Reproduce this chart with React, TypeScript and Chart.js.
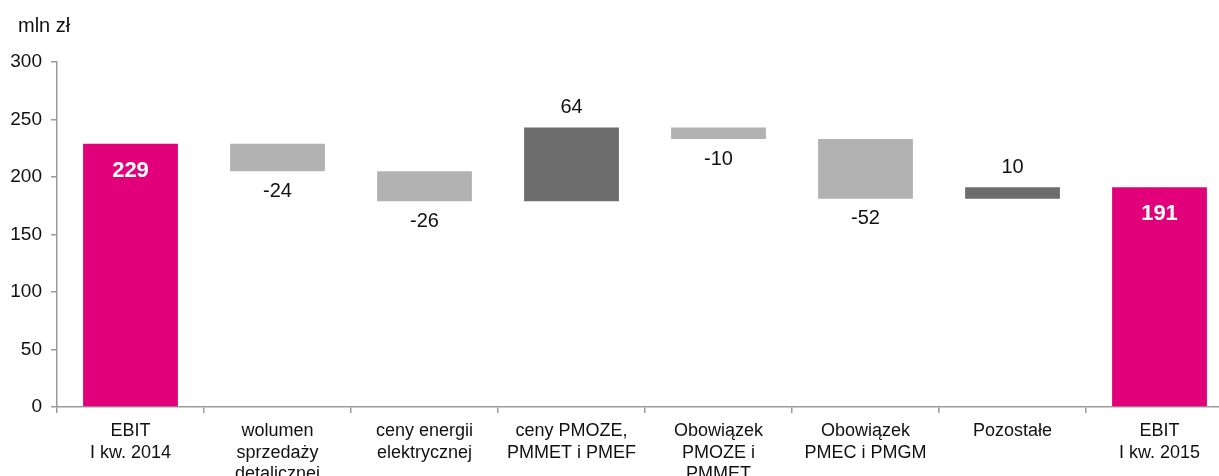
import { useEffect, useRef } from "react";
import { Chart, registerables } from "chart.js";

Chart.register(...registerables);

const categories: string[][] = [
  ["EBIT", "I kw. 2014"],
  ["wolumen", "sprzedaży", "detalicznej"],
  ["ceny energii", "elektrycznej"],
  ["ceny PMOZE,", "PMMET i PMEF"],
  ["Obowiązek", "PMOZE i", "PMMET"],
  ["Obowiązek", "PMEC i PMGM"],
  ["Pozostałe"],
  ["EBIT", "I kw. 2015"],
];
const changes = [229, -24, -26, 64, -10, -52, 10, 191];
const isTotal = [true, false, false, false, false, false, false, true];
const yTicks = [0, 50, 100, 150, 200, 250, 300];
const unitLabel = "mln zł";

const MAGENTA = "#E2007A";
const LIGHT = "#B2B2B2";
const DARK = "#6D6D6D";
const AXIS = "#9B9B9B";
const FONT = "'Liberation Sans', Arial, sans-serif";

function buildRanges() {
  let run = 0;
  return changes.map((v, i) => {
    if (isTotal[i]) {
      run = v;
      return [0, v];
    }
    const r = [run, run + v];
    run += v;
    return r;
  });
}

export default function App() {
  const ref = useRef<HTMLCanvasElement | null>(null);
  useEffect(() => {
    if (!ref.current) return;
    const ranges = buildRanges();
    const colors = changes.map((v, i) => (isTotal[i] ? MAGENTA : v < 0 ? LIGHT : DARK));
    const labelPlugin = {
      id: "wfLabels",
      afterDatasetsDraw(chart: any) {
        const ctx = chart.ctx;
        const meta = chart.getDatasetMeta(0);
        ctx.save();
        ctx.textAlign = "center";
        ctx.textBaseline = "middle";
        meta.data.forEach((el: any, i: number) => {
          const top = Math.min(el.y, el.base);
          const bottom = Math.max(el.y, el.base);
          const v = changes[i];
          if (isTotal[i]) {
            ctx.fillStyle = "#FFFFFF";
            ctx.font = `bold 22px ${FONT}`;
            ctx.fillText(String(v), el.x, top + 27);
          } else if (v < 0) {
            ctx.fillStyle = "#111";
            ctx.font = `20px ${FONT}`;
            ctx.fillText(String(v), el.x, bottom + 20);
          } else {
            ctx.fillStyle = "#111";
            ctx.font = `20px ${FONT}`;
            ctx.fillText(String(v), el.x, top - 20);
          }
        });
        // unit label
        ctx.textAlign = "left";
        ctx.textBaseline = "alphabetic";
        ctx.fillStyle = "#111";
        ctx.font = `20px ${FONT}`;
        ctx.fillText(unitLabel, 18, 32);
        ctx.restore();
      },
    };
    const chart = new Chart(ref.current, {
      type: "bar",
      data: {
        labels: categories,
        datasets: [
          {
            data: ranges as any,
            backgroundColor: colors,
            borderWidth: 0,
            barPercentage: 0.645,
            categoryPercentage: 1,
          },
        ],
      },
      options: {
        responsive: false,
        animation: false,
        layout: { padding: { top: 62, right: 3, left: 0, bottom: 0 } },
        plugins: { legend: { display: false }, tooltip: { enabled: false }, title: { display: false } },
        scales: {
          x: {
            grid: { display: true, drawOnChartArea: false, offset: true, tickLength: 6, color: AXIS, lineWidth: 1.5 },
            border: { display: true, color: AXIS, width: 1.5 },
            ticks: {
              color: "#111",
              font: { family: FONT, size: 18, lineHeight: 1.17 },
              padding: 8,
              maxRotation: 0,
              autoSkip: false,
            },
            afterFit: (scale: any) => {
              scale.height = 69;
            },
          },
          y: {
            min: 0,
            max: 300,
            afterBuildTicks: (scale: any) => {
              scale.ticks = yTicks.map((v) => ({ value: v }));
            },
            grid: { display: true, drawOnChartArea: false, tickLength: 6, color: AXIS, lineWidth: 1.5 },
            border: { display: true, color: AXIS, width: 1.5 },
            ticks: {
              color: "#111",
              font: { family: FONT, size: 19 },
              padding: 9,
            },
            afterFit: (scale: any) => {
              scale.width = 57;
            },
          },
        },
      },
      plugins: [labelPlugin],
    });
    return () => chart.destroy();
  }, []);
  return (
    <div style={{ position: "absolute", left: 0, top: 0, width: 1219, height: 476, overflow: "hidden", background: "#fff" }}>
      <canvas ref={ref} width={1236} height={476} style={{ display: "block" }} />
    </div>
  );
}
